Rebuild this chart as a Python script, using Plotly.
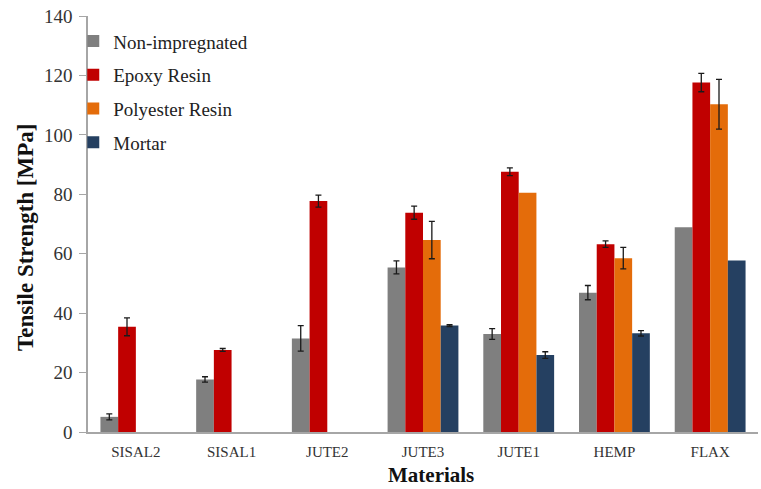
import plotly.graph_objects as go

materials = ["SISAL2", "SISAL1", "JUTE2", "JUTE3", "JUTE1", "HEMP", "FLAX"]

non_impregnated = [5.1, 17.7, 31.5, 55.4, 33.0, 46.9, 68.9]
non_impregnated_err = [1.0, 0.9, 4.3, 2.2, 1.8, 2.4, None]

epoxy = [35.4, 27.6, 77.7, 73.8, 87.6, 63.2, 117.6]
epoxy_err = [3.0, 0.5, 2.0, 2.2, 1.3, 1.1, 3.1]

polyester = [None, None, None, 64.6, 80.5, 58.5, 110.3]
polyester_err = [None, None, None, 6.3, None, 3.6, 8.4]

mortar = [None, None, None, 35.8, 25.9, 33.2, 57.7]
mortar_err = [None, None, None, 0.3, 1.1, 0.9, None]

series = [
    ("Non-impregnated", non_impregnated, non_impregnated_err, "#7f7f7f"),
    ("Epoxy Resin", epoxy, epoxy_err, "#c00000"),
    ("Polyester Resin", polyester, polyester_err, "#e46c0a"),
    ("Mortar", mortar, mortar_err, "#254061"),
]

serif = "Liberation Serif"

fig = go.Figure()
for name, vals, errs, color in series:
    # bars that carry a standard deviation
    with_err = [v if e is not None else None for v, e in zip(vals, errs)]
    err_vals = [e if e is not None else 0 for e in errs]
    # bars reported without a standard deviation (same slot in the group)
    no_err = [v if e is None else None for v, e in zip(vals, errs)]
    fig.add_trace(go.Bar(
        name=name, x=materials, y=with_err,
        legendgroup=name, offsetgroup=name,
        marker=dict(color=color, line=dict(width=0)),
        error_y=dict(type="data", array=err_vals, visible=True,
                     color="#1a1a1a", thickness=1.3, width=3),
    ))
    fig.add_trace(go.Bar(
        name=name, x=materials, y=no_err, showlegend=False,
        legendgroup=name, offsetgroup=name,
        marker=dict(color=color, line=dict(width=0)),
    ))

fig.update_layout(
    width=761, height=489,
    margin=dict(l=88, r=3, t=16, b=57),
    paper_bgcolor="white", plot_bgcolor="white",
    barmode="group", bargap=0.26, bargroupgap=0,
    font=dict(family=serif, color="#333333"),
    showlegend=True,
    legend=dict(
        x=-0.022, y=0.985, xanchor="left", yanchor="top",
        font=dict(family=serif, size=19, color="#222222"),
        traceorder="grouped", tracegroupgap=6,
        itemwidth=30, bgcolor="rgba(0,0,0,0)",
    ),
    xaxis=dict(
        showline=True, linecolor="#a6a6a6", linewidth=1.5,
        ticks="", tickfont=dict(family=serif, size=15, color="#333333"),
        ticklabelstandoff=5,
        showgrid=False,
    ),
    yaxis=dict(
        range=[0, 140], dtick=20, showline=True, linecolor="#a6a6a6", linewidth=1.5,
        ticks="outside", ticklen=7, tickcolor="#a6a6a6",
        tickfont=dict(family=serif, size=19, color="#333333"),
        ticklabelstandoff=3,
        showgrid=False, zeroline=False,
    ),
    annotations=[
        dict(text="<b>Materials</b>", xref="paper", yref="paper",
             x=(431 - 88) / 670, y=-(475 - 432) / 416,
             xanchor="center", yanchor="middle", showarrow=False,
             font=dict(family=serif, size=21, color="#111111")),
        dict(text="<b>Tensile Strength [MPa]</b>", xref="paper", yref="paper",
             x=-(88 - 25) / 670, y=(432 - 238) / 416, textangle=-90,
             xanchor="center", yanchor="middle", showarrow=False,
             font=dict(family=serif, size=23, color="#111111")),
    ],
)

fig.write_html("out.html")
